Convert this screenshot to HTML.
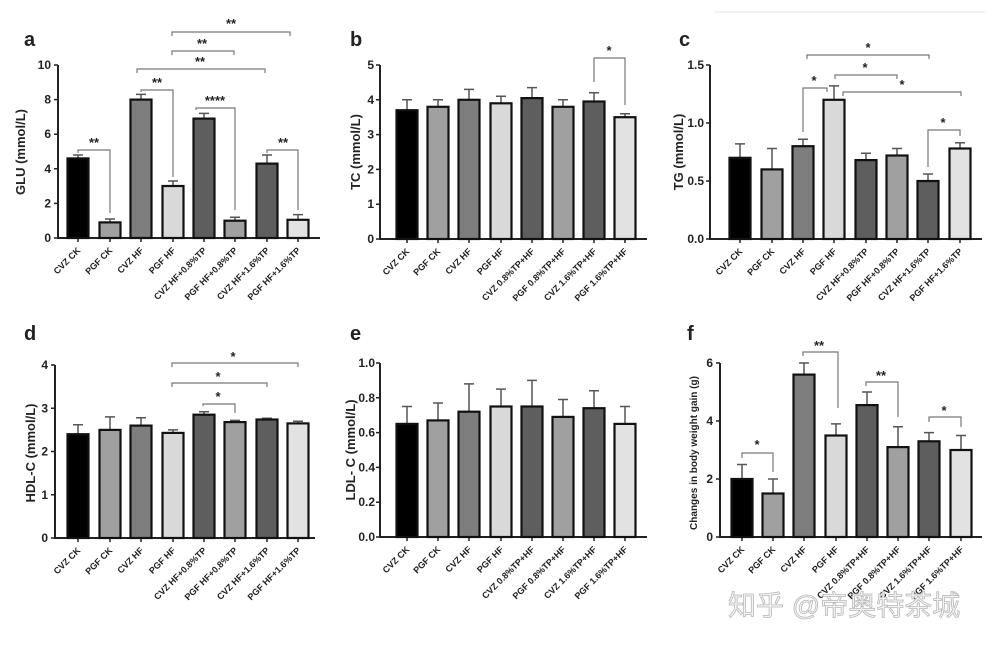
<!DOCTYPE html>
<html><head><meta charset="utf-8"><style>
html,body{margin:0;padding:0;background:#fff}
svg{display:block}
text{font-family:"Liberation Sans",Arial,sans-serif;font-weight:bold;fill:#222}
.t{font-size:12px}
.x{font-size:9px}
.L{font-size:20px}
.yl{font-size:13px}
.s{font-size:13px;text-anchor:middle}
.ax{stroke:#222;stroke-width:2;fill:none}
.b{stroke:#111;stroke-width:2.2}
.e{stroke:#555;stroke-width:1.5;fill:none}
.k{stroke:#777;stroke-width:1.2;fill:none}
</style></head><body>
<svg width="1000" height="645" viewBox="0 0 1000 645" xmlns="http://www.w3.org/2000/svg">
<line x1="715" y1="12" x2="985" y2="12" stroke="#e6e6e6" stroke-width="1"/>

<!-- ===== Panel a ===== -->
<text class="L" x="24" y="46">a</text>
<text class="yl" transform="translate(25,152) rotate(-90)" text-anchor="middle">GLU (mmol/L)</text>
<path class="ax" d="M58,65 V238 H320"/>
<g class="ax" style="stroke-width:1.5"><path d="M54,238H58M54,203.4H58M54,168.8H58M54,134.2H58M54,99.6H58M54,65H58"/>
<path d="M78,238v4M110,238v4M141,238v4M173,238v4M204,238v4M235,238v4M267,238v4M298,238v4"/></g>
<g class="t" text-anchor="end"><text x="51" y="242">0</text><text x="51" y="207.4">2</text><text x="51" y="172.8">4</text><text x="51" y="138.2">6</text><text x="51" y="103.6">8</text><text x="51" y="69">10</text></g>
<g class="e"><path d="M78,158.4V155M73,155H83M110,222.4V219M105,219H115M141,99.6V94.4M136,94.4H146M173,186V181M168,181H178M204,118.6V113.4M199,113.4H209M235,220.7V217.2M230,217.2H240M267,163.6V155M262,155H272M298,219.8V214.6M293,214.6H303"/></g>
<rect class="b" x="67.5" y="158.4" width="21" height="79.6" fill="#000"/>
<rect class="b" x="99.5" y="222.4" width="21" height="15.6" fill="#a0a0a0"/>
<rect class="b" x="130.5" y="99.6" width="21" height="138.4" fill="#7e7e7e"/>
<rect class="b" x="162.5" y="186" width="21" height="52" fill="#d9d9d9"/>
<rect class="b" x="193.5" y="118.6" width="21" height="119.4" fill="#5e5e5e"/>
<rect class="b" x="224.5" y="220.7" width="21" height="17.3" fill="#a0a0a0"/>
<rect class="b" x="256.5" y="163.6" width="21" height="74.4" fill="#5e5e5e"/>
<rect class="b" x="287.5" y="219.8" width="21" height="18.2" fill="#e2e2e2"/>
<g class="k"><path d="M78,153V150H110V213"/><path d="M141,92V90H173V177"/><path d="M196,110V108H235V210"/><path d="M267,153V150H298V210"/>
<path d="M137,73V69H265V73"/><path d="M172,55V51H234V55"/><path d="M172,36V32H290V36"/></g>
<g class="s"><text x="94" y="147">**</text><text x="157" y="87">**</text><text x="215" y="105">****</text><text x="283" y="147">**</text><text x="200" y="66">**</text><text x="202" y="48">**</text><text x="231" y="28">**</text></g>
<g class="x" text-anchor="end">
<text transform="translate(81,251) rotate(-45)">CVZ CK</text>
<text transform="translate(113,251) rotate(-45)">PGF CK</text>
<text transform="translate(144,251) rotate(-45)">CVZ HF</text>
<text transform="translate(176,251) rotate(-45)">PGF HF</text>
<text transform="translate(207,251) rotate(-45)">CVZ HF+0.8%TP</text>
<text transform="translate(238,251) rotate(-45)">PGF HF+0.8%TP</text>
<text transform="translate(270,251) rotate(-45)">CVZ HF+1.6%TP</text>
<text transform="translate(301,251) rotate(-45)">PGF HF+1.6%TP</text></g>

<!-- ===== Panel b ===== -->
<text class="L" x="350" y="46">b</text>
<text class="yl" transform="translate(360,152) rotate(-90)" text-anchor="middle">TC (mmol/L)</text>
<path class="ax" d="M380,65 V239 H647"/>
<g class="ax" style="stroke-width:1.5"><path d="M376,239H380M376,204.2H380M376,169.4H380M376,134.6H380M376,99.8H380M376,65H380"/>
<path d="M407,239v4M438,239v4M469,239v4M501,239v4M532,239v4M563,239v4M594,239v4M625,239v4"/></g>
<g class="t" text-anchor="end"><text x="374" y="243">0</text><text x="374" y="208.2">1</text><text x="374" y="173.4">2</text><text x="374" y="138.6">3</text><text x="374" y="103.8">4</text><text x="374" y="69">5</text></g>
<g class="e"><path d="M407,110.2V99.8M402,99.8H412M438,106.8V99.8M433,99.8H443M469,99.8V89.4M464,89.4H474M501,103.3V96.3M496,96.3H506M532,98.1V87.6M527,87.6H537M563,106.8V99.8M558,99.8H568M594,101.5V92.8M589,92.8H599M625,117.2V113.7M620,113.7H630"/></g>
<rect class="b" x="396.5" y="110.2" width="21" height="128.8" fill="#000"/>
<rect class="b" x="427.5" y="106.8" width="21" height="132.2" fill="#a0a0a0"/>
<rect class="b" x="458.5" y="99.8" width="21" height="139.2" fill="#7e7e7e"/>
<rect class="b" x="490.5" y="103.3" width="21" height="135.7" fill="#d9d9d9"/>
<rect class="b" x="521.5" y="98.1" width="21" height="140.9" fill="#5e5e5e"/>
<rect class="b" x="552.5" y="106.8" width="21" height="132.2" fill="#a0a0a0"/>
<rect class="b" x="583.5" y="101.5" width="21" height="137.5" fill="#5e5e5e"/>
<rect class="b" x="614.5" y="117.2" width="21" height="121.8" fill="#e2e2e2"/>
<g class="k"><path d="M594,82V58H625V105"/></g>
<g class="s"><text x="609" y="55">*</text></g>
<g class="x" text-anchor="end">
<text transform="translate(410,252) rotate(-45)">CVZ CK</text>
<text transform="translate(441,252) rotate(-45)">PGF CK</text>
<text transform="translate(472,252) rotate(-45)">CVZ HF</text>
<text transform="translate(504,252) rotate(-45)">PGF HF</text>
<text transform="translate(535,252) rotate(-45)">CVZ 0.8%TP+HF</text>
<text transform="translate(566,252) rotate(-45)">PGF 0.8%TP+HF</text>
<text transform="translate(597,252) rotate(-45)">CVZ 1.6%TP+HF</text>
<text transform="translate(628,252) rotate(-45)">PGF 1.6%TP+HF</text></g>

<!-- ===== Panel c ===== -->
<text class="L" x="679" y="46">c</text>
<text class="yl" transform="translate(683,152) rotate(-90)" text-anchor="middle">TG (mmol/L)</text>
<path class="ax" d="M710,65 V239 H982"/>
<g class="ax" style="stroke-width:1.5"><path d="M706,239H710M706,181H710M706,123H710M706,65H710"/>
<path d="M740,239v4M772,239v4M803,239v4M834,239v4M866,239v4M897,239v4M928,239v4M960,239v4"/></g>
<g class="t" text-anchor="end"><text x="704" y="243">0.0</text><text x="704" y="185">0.5</text><text x="704" y="127">1.0</text><text x="704" y="69">1.5</text></g>
<g class="e"><path d="M740,157.8V143.9M735,143.9H745M772,169.4V148.5M767,148.5H777M803,146.2V139.2M798,139.2H808M834,99.8V85.9M829,85.9H839M866,160.1V153.2M861,153.2H871M897,155.5V148.5M892,148.5H902M928,181V174M923,174H933M960,148.5V142.7M955,142.7H965"/></g>
<rect class="b" x="729.5" y="157.8" width="21" height="81.2" fill="#000"/>
<rect class="b" x="761.5" y="169.4" width="21" height="69.6" fill="#a0a0a0"/>
<rect class="b" x="792.5" y="146.2" width="21" height="92.8" fill="#7e7e7e"/>
<rect class="b" x="823.5" y="99.8" width="21" height="139.2" fill="#d9d9d9"/>
<rect class="b" x="855.5" y="160.1" width="21" height="78.9" fill="#5e5e5e"/>
<rect class="b" x="886.5" y="155.5" width="21" height="83.5" fill="#a0a0a0"/>
<rect class="b" x="917.5" y="181" width="21" height="58" fill="#5e5e5e"/>
<rect class="b" x="949.5" y="148.5" width="21" height="90.5" fill="#e2e2e2"/>
<g class="k"><path d="M807,59V55H929V59"/><path d="M835,79V75H897V79"/><path d="M843,96V92H961V96"/><path d="M803,132V88H827V92"/><path d="M928,167V130H960V136"/></g>
<g class="s"><text x="868" y="52">*</text><text x="865" y="72">*</text><text x="902" y="89">*</text><text x="814" y="85">*</text><text x="943" y="127">*</text></g>
<g class="x" text-anchor="end">
<text transform="translate(743,252) rotate(-45)">CVZ CK</text>
<text transform="translate(775,252) rotate(-45)">PGF CK</text>
<text transform="translate(806,252) rotate(-45)">CVZ HF</text>
<text transform="translate(837,252) rotate(-45)">PGF HF</text>
<text transform="translate(869,252) rotate(-45)">CVZ HF+0.8%TP</text>
<text transform="translate(900,252) rotate(-45)">PGF HF+0.8%TP</text>
<text transform="translate(931,252) rotate(-45)">CVZ HF+1.6%TP</text>
<text transform="translate(963,252) rotate(-45)">PGF HF+1.6%TP</text></g>

<!-- ===== Panel d ===== -->
<text class="L" x="24" y="340">d</text>
<text class="yl" transform="translate(35,453) rotate(-90)" text-anchor="middle">HDL-C (mmol/L)</text>
<path class="ax" d="M55,365 V538 H315"/>
<g class="ax" style="stroke-width:1.5"><path d="M51,538H55M51,494.75H55M51,451.5H55M51,408.25H55M51,365H55"/>
<path d="M78,538v4M110,538v4M141,538v4M173,538v4M204,538v4M235,538v4M267,538v4M298,538v4"/></g>
<g class="t" text-anchor="end"><text x="48" y="542">0</text><text x="48" y="498.75">1</text><text x="48" y="455.5">2</text><text x="48" y="412.25">3</text><text x="48" y="369">4</text></g>
<g class="e"><path d="M78,434.2V424.7M73,424.7H83M110,429.9V416.9M105,416.9H115M141,425.6V417.8M136,417.8H146M173,432.9V429.9M168,429.9H178M204,414.7V411.7M199,411.7H209M235,422.1V420.4M230,420.4H240M267,419.5V418.2M262,418.2H272M298,423.4V421.2M293,421.2H303"/></g>
<rect class="b" x="67.5" y="434.2" width="21" height="103.8" fill="#000"/>
<rect class="b" x="99.5" y="429.9" width="21" height="108.1" fill="#a0a0a0"/>
<rect class="b" x="130.5" y="425.6" width="21" height="112.4" fill="#7e7e7e"/>
<rect class="b" x="162.5" y="432.9" width="21" height="105.1" fill="#d9d9d9"/>
<rect class="b" x="193.5" y="414.7" width="21" height="123.3" fill="#5e5e5e"/>
<rect class="b" x="224.5" y="422.1" width="21" height="115.9" fill="#a0a0a0"/>
<rect class="b" x="256.5" y="419.5" width="21" height="118.5" fill="#5e5e5e"/>
<rect class="b" x="287.5" y="423.4" width="21" height="114.6" fill="#e2e2e2"/>
<g class="k"><path d="M172,367V363H298V367"/><path d="M172,387V383H267V387"/><path d="M203,406V404H235V413"/></g>
<g class="s"><text x="233" y="361">*</text><text x="218" y="381">*</text><text x="218" y="401">*</text></g>
<g class="x" text-anchor="end">
<text transform="translate(81,551) rotate(-45)">CVZ CK</text>
<text transform="translate(113,551) rotate(-45)">PGF CK</text>
<text transform="translate(144,551) rotate(-45)">CVZ HF</text>
<text transform="translate(176,551) rotate(-45)">PGF HF</text>
<text transform="translate(207,551) rotate(-45)">CVZ HF+0.8%TP</text>
<text transform="translate(238,551) rotate(-45)">PGF HF+0.8%TP</text>
<text transform="translate(270,551) rotate(-45)">CVZ HF+1.6%TP</text>
<text transform="translate(301,551) rotate(-45)">PGF HF+1.6%TP</text></g>

<!-- ===== Panel e ===== -->
<text class="L" x="350" y="340">e</text>
<text class="yl" transform="translate(355,450) rotate(-90)" text-anchor="middle">LDL- C (mmol/L)</text>
<path class="ax" d="M380,363 V537 H647"/>
<g class="ax" style="stroke-width:1.5"><path d="M376,537H380M376,502.2H380M376,467.4H380M376,432.6H380M376,397.8H380M376,363H380"/>
<path d="M407,537v4M438,537v4M469,537v4M501,537v4M532,537v4M563,537v4M594,537v4M625,537v4"/></g>
<g class="t" text-anchor="end"><text x="375" y="541">0.0</text><text x="375" y="506.2">0.2</text><text x="375" y="471.4">0.4</text><text x="375" y="436.6">0.6</text><text x="375" y="401.8">0.8</text><text x="375" y="367">1.0</text></g>
<g class="e"><path d="M407,423.9V406.5M402,406.5H412M438,420.4V403M433,403H443M469,411.7V383.9M464,383.9H474M501,406.5V389.1M496,389.1H506M532,406.5V380.4M527,380.4H537M563,416.9V399.5M558,399.5H568M594,408.2V390.8M589,390.8H599M625,423.9V406.5M620,406.5H630"/></g>
<rect class="b" x="396.5" y="423.9" width="21" height="113.1" fill="#000"/>
<rect class="b" x="427.5" y="420.4" width="21" height="116.6" fill="#a0a0a0"/>
<rect class="b" x="458.5" y="411.7" width="21" height="125.3" fill="#7e7e7e"/>
<rect class="b" x="490.5" y="406.5" width="21" height="130.5" fill="#d9d9d9"/>
<rect class="b" x="521.5" y="406.5" width="21" height="130.5" fill="#5e5e5e"/>
<rect class="b" x="552.5" y="416.9" width="21" height="120.1" fill="#a0a0a0"/>
<rect class="b" x="583.5" y="408.2" width="21" height="128.8" fill="#5e5e5e"/>
<rect class="b" x="614.5" y="423.9" width="21" height="113.1" fill="#e2e2e2"/>
<g class="x" text-anchor="end">
<text transform="translate(410,550) rotate(-45)">CVZ CK</text>
<text transform="translate(441,550) rotate(-45)">PGF CK</text>
<text transform="translate(472,550) rotate(-45)">CVZ HF</text>
<text transform="translate(504,550) rotate(-45)">PGF HF</text>
<text transform="translate(535,550) rotate(-45)">CVZ 0.8%TP+HF</text>
<text transform="translate(566,550) rotate(-45)">PGF 0.8%TP+HF</text>
<text transform="translate(597,550) rotate(-45)">CVZ 1.6%TP+HF</text>
<text transform="translate(628,550) rotate(-45)">PGF 1.6%TP+HF</text></g>

<!-- ===== Panel f ===== -->
<text class="L" x="687" y="340">f</text>
<text transform="translate(697,453) rotate(-90)" text-anchor="middle" style="font-size:10px">Changes in body weight gain (g)</text>
<path class="ax" d="M720,363 V537 H982"/>
<g class="ax" style="stroke-width:1.5"><path d="M716,537H720M716,479H720M716,421H720M716,363H720"/>
<path d="M742,537v4M773,537v4M804,537v4M836,537v4M867,537v4M898,537v4M929,537v4M961,537v4"/></g>
<g class="t" text-anchor="end"><text x="713" y="541">0</text><text x="713" y="483">2</text><text x="713" y="425">4</text><text x="713" y="367">6</text></g>
<g class="e"><path d="M742,479V464.5M737,464.5H747M773,493.5V479M768,479H778M804,374.6V363M799,363H809M836,435.5V423.9M831,423.9H841M867,405.1V392M862,392H872M898,447.1V426.8M893,426.8H903M929,441.3V432.6M924,432.6H934M961,450V435.5M956,435.5H966"/></g>
<rect class="b" x="731.5" y="479" width="21" height="58" fill="#000"/>
<rect class="b" x="762.5" y="493.5" width="21" height="43.5" fill="#a0a0a0"/>
<rect class="b" x="793.5" y="374.6" width="21" height="162.4" fill="#7e7e7e"/>
<rect class="b" x="825.5" y="435.5" width="21" height="101.5" fill="#d9d9d9"/>
<rect class="b" x="856.5" y="405.1" width="21" height="131.9" fill="#5e5e5e"/>
<rect class="b" x="887.5" y="447.1" width="21" height="89.9" fill="#a0a0a0"/>
<rect class="b" x="918.5" y="441.3" width="21" height="95.7" fill="#5e5e5e"/>
<rect class="b" x="950.5" y="450" width="21" height="87" fill="#e2e2e2"/>
<g class="k"><path d="M803,356V352H838V408"/><path d="M866,386V382H898V417"/><path d="M929,422V417H961V427"/><path d="M742,458V453H773V472"/></g>
<g class="s"><text x="819" y="350">**</text><text x="881" y="380">**</text><text x="944" y="415">*</text><text x="757" y="449">*</text></g>
<g class="x" text-anchor="end">
<text transform="translate(745,550) rotate(-45)">CVZ CK</text>
<text transform="translate(776,550) rotate(-45)">PGF CK</text>
<text transform="translate(807,550) rotate(-45)">CVZ HF</text>
<text transform="translate(839,550) rotate(-45)">PGF HF</text>
<text transform="translate(870,550) rotate(-45)">CVZ 0.8%TP+HF</text>
<text transform="translate(901,550) rotate(-45)">PGF 0.8%TP+HF</text>
<text transform="translate(932,550) rotate(-45)">CVZ 1.6%TP+HF</text>
<text transform="translate(964,550) rotate(-45)">PGF 1.6%TP+HF</text></g>

<text x="728" y="615" style="font-family:'Liberation Sans','Noto Sans CJK SC',sans-serif;font-size:28px;font-weight:normal;fill:#f4f4f4;stroke:#b8b8b8;stroke-width:0.8">知乎 @帝奥特茶城</text>
</svg>
</body></html>
